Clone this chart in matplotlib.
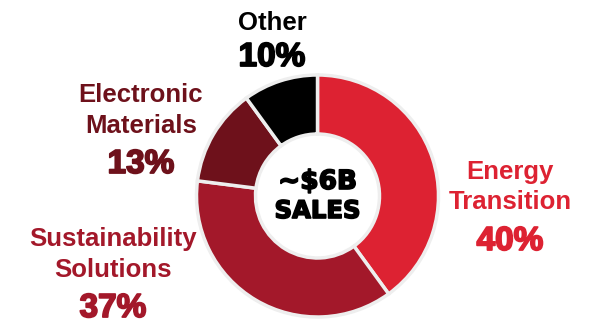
import matplotlib
matplotlib.use("Agg")
import matplotlib.pyplot as plt
import matplotlib.patheffects as pe

# segment data
segments = ["Energy\nTransition", "Sustainability\nSolutions", "Electronic\nMaterials", "Other"]
shares = [40, 37, 13, 10]
colors = ["#DD2232", "#A3182A", "#6E111B", "#000000"]
center_line1 = "~$6B"
center_line2 = "SALES"

W, H = 600, 323
fig = plt.figure(figsize=(W / 100, H / 100), dpi=100)
ax = fig.add_axes([0, 0, 1, 1])

cx, cy, r = 317.5, H - 196, 121
ax.pie(shares, colors=colors, startangle=90, counterclock=False,
       center=(cx, cy), radius=r, frame=True,
       wedgeprops=dict(width=59, edgecolor="#EEEEEE", linewidth=2.5))
ax.set_xlim(0, W)
ax.set_ylim(0, H)
ax.set_aspect("equal")
ax.axis("off")


def px(y):
    return H - y


# label positions (x centre, baselines of name lines, baseline of percent)
label_pos = [
    (510, [179, 209], 250),
    (113, [246, 277], 317),
    (141, [102, 133], 173),
    (272, [30], 66),
]

name_font = dict(family="Liberation Sans", weight="bold", size=18.5)
pct_font = dict(family="Liberation Sans", weight="bold", size=24)

for name, val, col, (x, ys, yp) in zip(segments, shares, colors, label_pos):
    for line, y in zip(name.split("\n"), ys):
        ax.text(x, px(y), line, color=col, ha="center", va="baseline", **name_font)
    ax.text(x, px(yp), f"{val}%", color=col, ha="center", va="baseline",
            path_effects=[pe.withStroke(linewidth=1.3, foreground=col)], **pct_font)

heavy = [pe.withStroke(linewidth=1.2, foreground="black")]
ax.text(cx, px(189), center_line1, ha="center", va="baseline",
        family="DejaVu Sans", weight="bold", size=19, color="black", path_effects=heavy)
ax.text(cx, px(218), center_line2, ha="center", va="baseline",
        family="DejaVu Sans", weight="bold", size=17.5, color="black", path_effects=heavy)

fig.savefig("out.png", dpi=100, facecolor="white")
